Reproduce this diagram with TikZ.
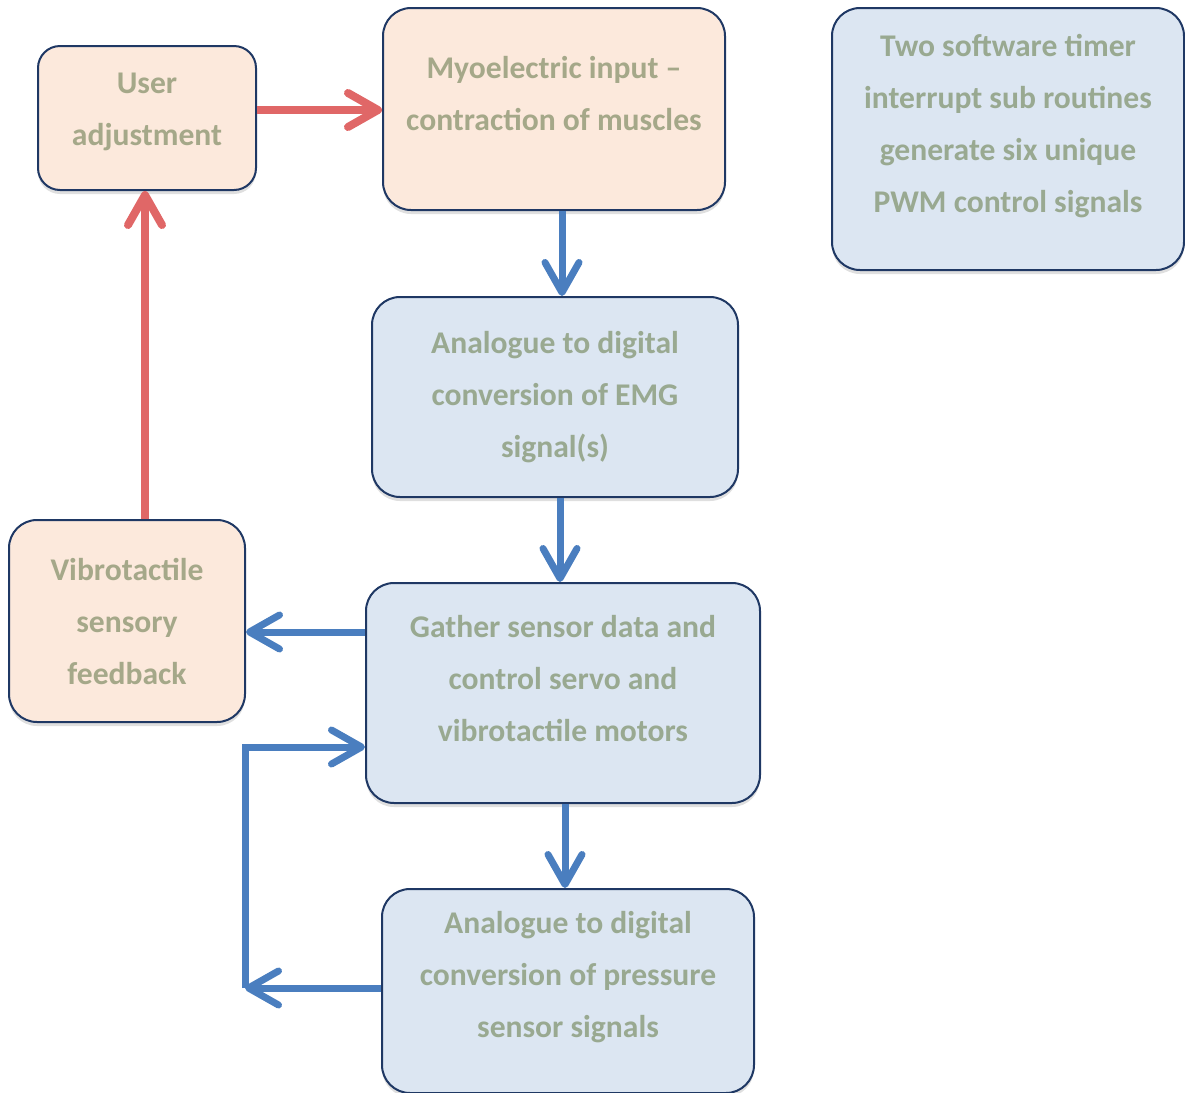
\documentclass[tikz,border=0pt]{standalone}
\usepackage{fontspec}
\setmainfont{Carlito}
\usetikzlibrary{arrows.meta,shadows}

\definecolor{boxline}{HTML}{1F3864}
\definecolor{peach}{HTML}{FCE9DC}
\definecolor{paleblue}{HTML}{DCE6F2}
\definecolor{peachtext}{HTML}{A5A889}
\definecolor{bluetext}{HTML}{99A991}
\definecolor{redline}{HTML}{E06767}
\definecolor{blueline}{HTML}{4A7EBF}

\begin{document}
\begin{tikzpicture}[x = 0.5pt, y = -0.5pt,
    every node/.style = { draw = boxline, line width = 1pt, align = center,
      rounded corners = 14pt, font = \fontsize{15.8}{26}\selectfont\bfseries,
      drop shadow={opacity=.25,shadow xshift=0pt,shadow yshift=-2pt} },
    orangebox/.style = { fill = peach, text = peachtext },
    bluebox/.style = { fill = paleblue, text = bluetext },
    redarrow/.style = { draw = redline, line width = 4pt,
      -{Straight Barb[length = 15pt, width = 17pt, round]} },
    bluearrow/.style = { draw = blueline, line width = 3.5pt,
      -{Straight Barb[length = 15pt, width = 17pt, round]} }]
  \useasboundingbox (0,0) rectangle (1185,1093);

  \node [orangebox, minimum width = 109pt, minimum height = 72pt, rounded corners = 11pt,
    text depth = 9pt] (user) at (147,118) { User \\ adjustment };
  \node [orangebox, minimum width = 171pt, minimum height = 101pt, text depth = 16pt]
    (myo) at (554,109) { Myoelectric input -- \\ contraction of muscles };
  \node [bluebox, minimum width = 176pt, minimum height = 131pt, text depth = 16pt]
    (timer) at (1008,139) { Two software timer \\ interrupt sub routines \\
      generate six unique \\ PWM control signals };
  \node [bluebox, minimum width = 183pt, minimum height = 100pt]
    (emg) at (555,397) { Analogue to digital \\ conversion of EMG \\ signal(s) };
  \node [orangebox, minimum width = 118pt, minimum height = 101pt]
    (vibro) at (127,621) { Vibrotactile \\ sensory \\ feedback };
  \node [bluebox, minimum width = 197pt, minimum height = 110pt, text depth = 15pt]
    (gather) at (563,693) { Gather sensor data and \\ control servo and \\
      vibrotactile motors };
  \node [bluebox, minimum width = 186pt, minimum height = 102pt, text depth = 17pt]
    (press) at (568,991) { Analogue to digital \\ conversion of pressure \\
      sensor signals };

  % feedback loop through the user
  \draw [redarrow] (user.east |- 0,110) -- (myo.west |- 0,110);
  \draw [redarrow] (vibro.north -| 145,0) -- (user.south -| 145,0);

  % signal chain
  \draw [bluearrow] (myo.south -| 562,0) -- (emg.north -| 562,0);
  \draw [bluearrow] (emg.south -| 560,0) -- (gather.north -| 560,0);
  \draw [bluearrow] (gather.south -| 565,0) -- (press.north -| 565,0);
  \draw [bluearrow] (gather.west |- 0,632) -- (vibro.east |- 0,632);

  % pressure readings go back to the controller
  \coordinate (loopbot) at (245,988);
  \draw [bluearrow] (press.west |- loopbot) -- (loopbot);
  \draw [bluearrow] (loopbot) |- (gather.west |- 0,747);
\end{tikzpicture}
\end{document}
